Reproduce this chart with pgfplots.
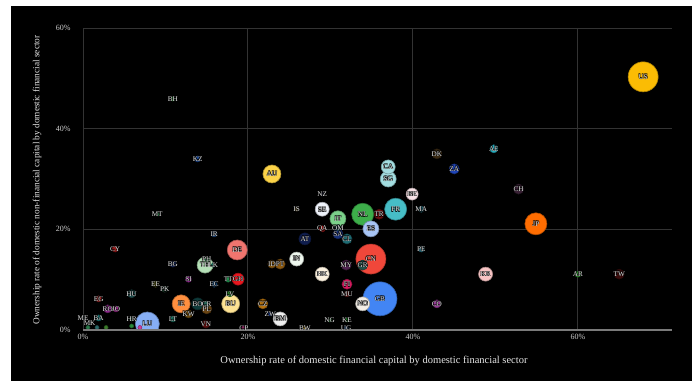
\documentclass[border=0pt]{standalone}
\usepackage{pgfplots}
\pgfplotsset{compat=1.18}
\usepackage{pgfplotstable}
\usepackage{fontspec}
\setmainfont{Liberation Serif}

\definecolor{gridc}{HTML}{333333}
\definecolor{basec}{HTML}{7A7A7A}
\definecolor{tickc}{HTML}{CFCFCF}
\definecolor{labc}{HTML}{E6E6E6}

\definecolor{cGB}{HTML}{4285F4}
\definecolor{cUS}{HTML}{FBBC04}
\definecolor{cCN}{HTML}{F0473A}
\definecolor{cLU}{HTML}{86AEF5}
\definecolor{cJP}{HTML}{FF6D01}
\definecolor{cFR}{HTML}{46BDC6}
\definecolor{cNL}{HTML}{3DAE4A}
\definecolor{cDE}{HTML}{F0756F}
\definecolor{cAU}{HTML}{FBD348}
\definecolor{cRU}{HTML}{FDE293}
\definecolor{cIE}{HTML}{FF8F3F}
\definecolor{cIT}{HTML}{7BD18A}
\definecolor{cES}{HTML}{A7C4F5}
\definecolor{cSG}{HTML}{A3DDE0}
\definecolor{cCA}{HTML}{A3DDE0}
\definecolor{cTH}{HTML}{B5E0B7}
\definecolor{cSE}{HTML}{EEF2FA}
\definecolor{cIN}{HTML}{EEF7EE}
\definecolor{cHK}{HTML}{FBF1DF}
\definecolor{cNO}{HTML}{F3EEE6}
\definecolor{cKR}{HTML}{F6C3C3}
\definecolor{cBM}{HTML}{EEEEEE}
\definecolor{cBE}{HTML}{F8E2E6}
\definecolor{cGH}{HTML}{E8161E}
\definecolor{cAT}{HTML}{101E4E}
\definecolor{cBO}{HTML}{0E3A3A}
\definecolor{cPL}{HTML}{6B4513}
\definecolor{cCZ}{HTML}{B8740F}
\definecolor{cPT}{HTML}{8C5A12}
\definecolor{cSA}{HTML}{17307A}
\definecolor{cCL}{HTML}{1E6D75}
\definecolor{cMY}{HTML}{4F2350}
\definecolor{cGR}{HTML}{1F4F48}
\definecolor{cFI}{HTML}{D81B60}
\definecolor{cTR}{HTML}{6E1212}
\definecolor{cZA}{HTML}{1F45B8}
\definecolor{cDK}{HTML}{3A2A12}
\definecolor{cCH}{HTML}{3A2236}
\definecolor{cTW}{HTML}{3A0C0C}
\definecolor{cCO}{HTML}{9A3C9A}
\definecolor{cAE}{HTML}{27AFC0}
\definecolor{cID}{HTML}{8A5A12}
\definecolor{cKW}{HTML}{6B4A10}
\definecolor{cVN}{HTML}{5A1010}
\definecolor{cHU}{HTML}{1F4F4F}
\definecolor{cRO}{HTML}{8E2A8E}
\definecolor{cJO}{HTML}{9A2A8A}
\definecolor{cCR}{HTML}{2A6A5A}
\definecolor{cQA}{HTML}{A01A1A}
\definecolor{cOM}{HTML}{2A5A6A}
\definecolor{cMA}{HTML}{2A6A7A}
\definecolor{cPE}{HTML}{2A6A7A}
\definecolor{cAR}{HTML}{2A8A2A}
\definecolor{cKZ}{HTML}{1A4A9A}
\definecolor{cIR}{HTML}{1A4A8A}
\definecolor{cCY}{HTML}{9A1A1A}
\definecolor{cBG}{HTML}{1A2A5A}
\definecolor{cSI}{HTML}{9A2A9A}
\definecolor{cEC}{HTML}{1A4A7A}
\definecolor{cEE}{HTML}{5A5A1A}
\definecolor{cPK}{HTML}{1A3A2A}
\definecolor{cLV}{HTML}{2A7A2A}
\definecolor{cLT}{HTML}{1A6A5A}
\definecolor{cTT}{HTML}{1E8A4A}
\definecolor{cMU}{HTML}{6A1A1A}
\definecolor{cEG}{HTML}{9A2A2A}
\definecolor{cBA}{HTML}{1A7A7A}
\definecolor{cIS}{HTML}{8A7A4A}
\definecolor{cNZ}{HTML}{1A1A2A}
\definecolor{cBH}{HTML}{1E8A2A}
\definecolor{cMT}{HTML}{1E6A3A}
\definecolor{cPH}{HTML}{1E6A3A}
\definecolor{cLK}{HTML}{1E7A6A}
\definecolor{cNG}{HTML}{1E6A2A}
\definecolor{cKE}{HTML}{1E8A2A}
\definecolor{cZW}{HTML}{1A3A8A}
\definecolor{cHR}{HTML}{2A6A4A}
\definecolor{cME}{HTML}{2A4A4A}
\definecolor{cMK}{HTML}{2A4A4A}
\definecolor{cBW}{HTML}{C9A012}
\definecolor{cUG}{HTML}{1A5AAA}
\definecolor{cCP}{HTML}{9A2A6A}
\definecolor{cXa}{HTML}{2A7A4A}
\definecolor{cXb}{HTML}{2A6A6A}
\definecolor{cXc}{HTML}{3A7A2A}
\definecolor{cXd}{HTML}{2A8A3A}
\definecolor{cXe}{HTML}{D03A9A}

\pgfplotstableread{
x y r lab
36.0 6.2 17 GB
67.9 50.3 15 US
34.9 14.1 15 CN
7.8 1.2 12 LU
54.9 21.1 11 JP
37.9 24.0 11 FR
33.9 23.0 11 NL
18.7 15.9 10 DE
22.9 31.0 9 AU
17.9 5.2 9 RU
11.9 5.2 9 IE
30.9 22.1 8 IT
34.9 20.1 8 ES
37.0 30.0 8 SG
14.8 12.9 8 TH
37.0 32.4 7 CA
29.0 24.0 7 SE
25.9 14.1 7 IN
29.0 11.1 7 HK
33.9 5.2 7 NO
48.8 11.1 7 KR
23.9 2.2 7 BM
39.9 27.0 6 BE
18.8 10.1 6 GH
26.9 18.1 6 AT
13.9 5.2 6 BO
15.0 4.2 5 PL
21.8 5.2 5 CZ
23.9 13.1 5 PT
30.9 19.1 5 SA
32.0 18.1 5 CL
31.9 12.9 5 MY
33.9 12.9 5 GR
32.0 9.1 5 FI
35.9 23.0 5 TR
45.0 32.0 5 ZA
42.9 35.0 5 DK
52.8 28.0 5 CH
65.0 11.1 5 TW
42.9 5.2 4 CO
49.8 36.0 4 AE
22.9 13.1 4 ID
12.8 3.2 4 KW
14.9 1.2 4 VN
5.9 7.2 4 HU
3.0 4.2 4 RO
4.0 4.2 3 JO
15.0 5.2 3 CR
29.0 20.1 3 QA
30.9 20.3 3 OM
41.0 24.0 3 MA
41.0 16.1 3 PE
60.0 11.1 3 AR
13.9 34.0 3 KZ
15.9 19.1 3 IR
3.9 16.1 3 CY
10.9 13.1 3 BG
12.8 10.1 3 SI
15.9 9.1 3 EC
8.8 9.1 3 EE
9.9 8.1 3 PK
17.8 7.2 3 LV
10.9 2.2 3 LT
17.6 10.1 3 TT
32.0 7.2 3 MU
1.9 6.2 3 EG
1.9 2.4 3 BA
25.9 24.0 2 IS
29.0 27.0 2 NZ
10.9 45.9 2 BH
9.0 23.0 2 MT
15.0 14.1 2 PH
15.8 12.9 2 LK
29.9 2.0 2 NG
32.0 2.0 2 KE
22.7 3.2 2 ZW
5.9 2.2 2 HR
0.0 2.4 2 ME
0.8 1.4 2 MK
26.9 0.4 2 BW
31.9 0.4 2 UG
19.5 0.4 2 CP
}\bubbles

\pgfplotstableread{
x y r lab
0.6 0.5 2 Xa
1.7 0.5 2 Xb
2.8 0.5 2 Xc
5.9 0.8 2 Xd
6.9 0.5 2 Xe
}\tiny

\newcommand{\lblfont}{\fontsize{7.2}{8}\selectfont}
\newcommand{\aura}[2]{%
\addplot[only marks, mark=none, point meta=explicit symbolic,
  nodes near coords,
  nodes near coords style={anchor=center, font=\lblfont, text=black, inner sep=0pt, xshift=#1pt, yshift=#2pt}]
  table[x=x,y=y,meta=lab]{\bubbles};}
\pgfplotsset{bubblestyle/.style={scatter, only marks, mark=*,
  point meta=explicit symbolic,
  visualization depends on={\thisrow{r}\as\rad},
  scatter/@pre marker code/.code={\scope[mark size=\rad, fill=c\pgfplotspointmeta, draw=c\pgfplotspointmeta!70!black, line width=0.6pt]},
  scatter/@post marker code/.code={\endscope}}}

\begin{document}
\begin{tikzpicture}[x=1pt,y=1pt]
\fill[white] (0,0) rectangle (692,-381);
\fill[black] (11,-6) rectangle (692,-381);
% axis 1: grid, ticks and clipped bubbles
\begin{axis}[
  at={(83pt,-330pt)}, anchor=south west,
  scale only axis, width=589pt, height=302pt,
  xmin=0, xmax=71.4, ymin=0, ymax=60,
  clip=true, clip marker paths=true,
  axis line style={draw=none},
  tick style={draw=none},
  grid=major,
  major grid style={draw=gridc, line width=1pt},
  xtick={0,20,40,60}, ytick={0,20,40,60},
  xticklabels={0\%,20\%,40\%,60\%},
  yticklabels={0\%,20\%,40\%,60\%},
  ticklabel style={font=\fontsize{8}{9}\selectfont, text=tickc},
  yticklabel style={xshift=-9pt},
  xticklabel style={yshift=-1pt},
]
\addplot[bubblestyle] table[x=x,y=y,meta=lab]{\bubbles};
\addplot[bubblestyle] table[x=x,y=y,meta=lab]{\tiny};
\end{axis}
% axis 2: baseline and labels, not clipped
\begin{axis}[
  at={(83pt,-330pt)}, anchor=south west,
  scale only axis, width=589pt, height=302pt,
  xmin=0, xmax=71.4, ymin=0, ymax=60,
  clip=false, hide axis,
]
\draw[basec, line width=1.6pt] (axis cs:0,0) -- (axis cs:71.4,0);
\aura{0.45}{0.45}
\aura{-0.45}{-0.45}
\aura{0.45}{-0.45}
\aura{-0.45}{0.45}
\addplot[only marks, mark=none, point meta=explicit symbolic,
  nodes near coords,
  nodes near coords style={anchor=center, font=\lblfont, text=labc, inner sep=0pt}]
  table[x=x,y=y,meta=lab]{\bubbles};
\end{axis}
\node[font=\fontsize{10.5}{12}\selectfont, text=labc] at (374,-361) {Ownership rate of domestic financial capital by domestic financial sector};
\node[rotate=90, font=\fontsize{9.3}{11}\selectfont, text=labc] at (37,-180) {Ownership rate of domestic non-financial capital by domestic financial sector};
\pgfresetboundingbox
\path[use as bounding box] (0,0) rectangle (692,-381);
\end{tikzpicture}
\end{document}
